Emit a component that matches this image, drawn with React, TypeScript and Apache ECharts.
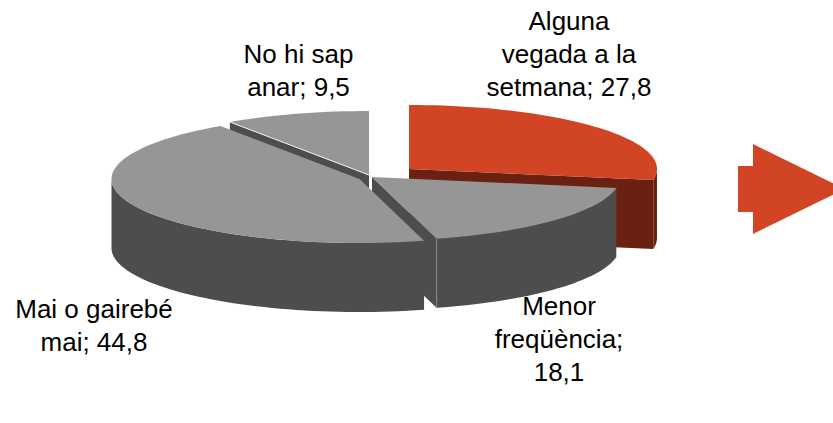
import React, { useEffect, useRef } from "react";
import * as echarts from "echarts";

const categories = ["Alguna vegada a la setmana", "Menor freqüència", "Mai o gairebé mai", "No hi sap anar"];
const values = [27.8, 18.1, 44.8, 9.5];
const valueLabels = ["27,8", "18,1", "44,8", "9,5"];
const labelHeads = ["Alguna\nvegada a la\nsetmana; ", "Menor\nfreqüència;\n", "Mai o gairebé\nmai; ", "No hi sap\nanar; "];

// layout
const RX = 248;
const RY = 64;
const DEPTH = 69;
const centres = [[409, 169], [372, 177], [359.5, 179], [369, 175]];
const labelAnchors = [[569, 54], [559, 339], [94, 325], [298.5, 70]];
const topColours = ["#D14424", "#969696", "#969696", "#969696"];
const sideColours = ["#6B2112", "#4D4D4D", "#4D4D4D", "#4D4D4D"];
const drawOrder = [3, 0, 1, 2];

const total = values.reduce((a, b) => a + b, 0);
const startAngles = values.map((_, i) => (values.slice(0, i).reduce((a, b) => a + b, 0) / total) * 360);

const pt = (c: number[], deg: number, dy = 0) => {
  const r = (deg * Math.PI) / 180;
  return [c[0] + RX * Math.sin(r), c[1] - RY * Math.cos(r) + dy];
};
const arc = (c: number[], a: number, b: number, dy = 0) => {
  const out: number[][] = [];
  const n = Math.max(1, Math.ceil((b - a) / 2));
  for (let i = 0; i <= n; i++) out.push(pt(c, a + ((b - a) * i) / n, dy));
  return out;
};

const renderSlice = (_params: any, api: any) => {
  const i = api.value(1);
  const a = startAngles[i];
  const b = a + (api.value(0) / total) * 360;
  const c = centres[i];
  const fill = topColours[i];
  const side = sideColours[i];
  const children: any[] = [];
  const face = (deg: number) => {
    const p = pt(c, deg);
    children.push({
      type: "polygon",
      shape: { points: [c, p, [p[0], p[1] + DEPTH], [c[0], c[1] + DEPTH]] },
      style: { fill: side },
    });
  };
  if (Math.sin((a * Math.PI) / 180) < -1e-6) face(a);
  if (Math.sin((b * Math.PI) / 180) > 1e-6) face(b);
  const s = Math.max(a, 90);
  const e = Math.min(b, 270);
  if (e > s) {
    children.push({
      type: "polygon",
      shape: { points: [...arc(c, s, e), ...arc(c, s, e, DEPTH).reverse()] },
      style: { fill: side },
    });
  }
  children.push({
    type: "polygon",
    shape: { points: [c, ...arc(c, a, b)] },
    style: { fill },
  });
  if (i === 1) {
    const p = pt(c, b);
    children.push({
      type: "line",
      shape: { x1: p[0], y1: p[1], x2: p[0], y2: p[1] + DEPTH },
      style: { stroke: "#8A8A8A", lineWidth: 1 },
    });
  }
  if (i === 3) {
    const p = pt(c, a);
    children.push({
      type: "line",
      shape: { x1: p[0], y1: p[1], x2: c[0], y2: c[1] },
      style: { stroke: "#F0F0F0", lineWidth: 1 },
    });
  }
  return { type: "group", children };
};

export default function App() {
  const ref = useRef<HTMLDivElement>(null);
  useEffect(() => {
    const chart = echarts.init(ref.current!, undefined, { renderer: "svg" });
    chart.setOption({
      animation: false,
      backgroundColor: "#FFFFFF",
      series: [
        {
          type: "custom",
          coordinateSystem: "none",
          silent: true,
          renderItem: renderSlice,
          data: drawOrder.map((i) => ({ name: categories[i], value: [values[i], i] })),
        },
      ],
      graphic: [
        ...labelHeads.map((h, i) => ({
          type: "text",
          x: labelAnchors[i][0],
          y: labelAnchors[i][1],
          style: {
            text: h + valueLabels[i],
            font: '26px "Liberation Sans"',
            fill: "#000000",
            align: "center",
            verticalAlign: "middle",
            lineHeight: 33,
          },
        })),
        {
          type: "polygon",
          shape: { points: [[738, 166], [753, 166], [753, 144], [845, 189], [753, 234], [753, 212], [738, 212]] },
          style: { fill: "#D14424" },
        },
      ],
    });
    return () => chart.dispose();
  }, []);
  return <div ref={ref} style={{ position: "absolute", left: 0, top: 0, width: 833, height: 423 }} />;
}
